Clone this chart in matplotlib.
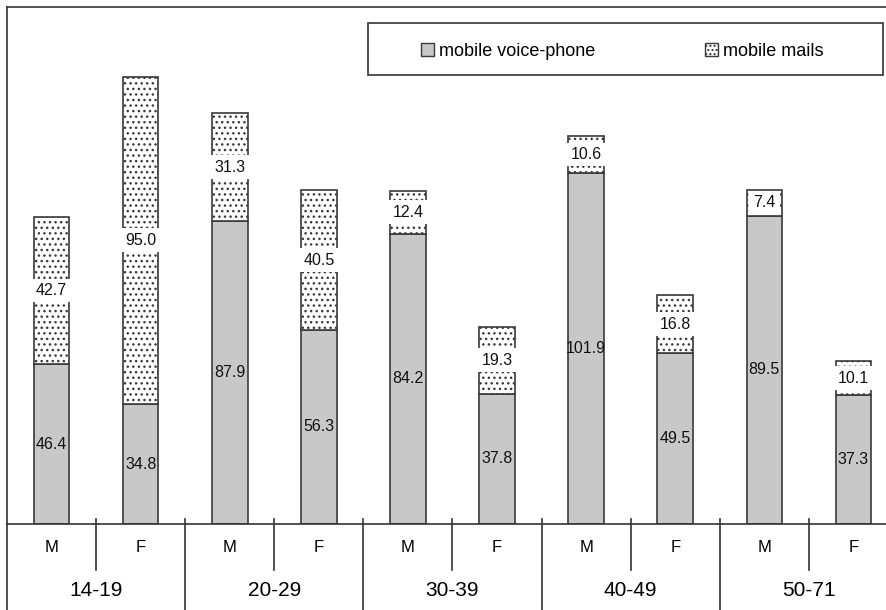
import matplotlib
matplotlib.use("Agg")
import matplotlib.pyplot as plt
from matplotlib.patches import Rectangle, Patch
import numpy as np

plt.rcParams['font.family'] = ['Liberation Sans', 'DejaVu Sans']
plt.rcParams['hatch.linewidth'] = 1.0

age_groups = ["14-19", "20-29", "30-39", "40-49", "50-71"]
sexes = ["M", "F"]
voice = [46.4, 34.8, 87.9, 56.3, 84.2, 37.8, 101.9, 49.5, 89.5, 37.3]
mails = [42.7, 95.0, 31.3, 40.5, 12.4, 19.3, 10.6, 16.8, 7.4, 10.1]
series_names = ["mobile voice-phone", "mobile mails"]

W, H = 887, 610
fig = plt.figure(figsize=(W / 100, H / 100), dpi=100)
ax_h = 517
ax = fig.add_axes([7 / W, 86 / H, 891 / W, ax_h / H])

x = np.arange(len(voice))
edge = "#3a3a3a"
b1 = ax.bar(x, voice, width=0.40, color="#c8c8c8", edgecolor=edge, linewidth=1.2)
b2 = ax.bar(x, mails, width=0.40, bottom=voice, color="white", edgecolor=edge,
            linewidth=1.2, hatch="...")

for xi, v, m in zip(x, voice, mails):
    ax.text(xi, v / 2, f"{v:.1f}", ha="center", va="center", fontsize=11.5, color="#111",
            zorder=5)
    ax.text(xi, v + m / 2, f"{m:.1f}", ha="center", va="center", fontsize=11.5, color="#111",
            zorder=5, bbox=dict(facecolor="white", edgecolor="none", pad=3.2))

ax.set_xlim(-0.5, len(voice) - 0.5)
ax.set_ylim(0, 150)
ax.set_xticks([])
ax.set_yticks([])
ax.spines["right"].set_visible(False)
for s in ["top", "left", "bottom"]:
    ax.spines[s].set_color("#333")
    ax.spines[s].set_linewidth(1.2)

trans = ax.get_xaxis_transform()
up = 5 / ax_h
# within-group separators
for g in range(len(age_groups)):
    xs = 2 * g + 0.5
    ax.plot([xs, xs], [up, -46 / ax_h], transform=trans, color="#333", lw=1.2, clip_on=False)
# group separators
for g in range(len(age_groups)):
    xs = 2 * g - 0.5
    top = up if g > 0 else 0
    ax.plot([xs, xs], [top, -86 / ax_h], transform=trans, color="#333", lw=1.2, clip_on=False)

for i in range(len(voice)):
    ax.text(i, -23 / ax_h, sexes[i % 2], transform=trans, ha="center", va="center", fontsize=12)
for g, name in enumerate(age_groups):
    ax.text(2 * g + 0.5, -66 / ax_h, name, transform=trans, ha="center", va="center", fontsize=15)

# legend box
fig.add_artist(Rectangle((368 / W, (H - 75) / H), (883 - 368) / W, 52 / H,
                         transform=fig.transFigure, facecolor="white", edgecolor="#333", lw=1.2))
handles = [Patch(facecolor="#c8c8c8", edgecolor=edge, lw=1.0),
           Patch(facecolor="white", edgecolor=edge, lw=1.0, hatch="....")]
fig.legend(handles, series_names, loc="center left", bbox_to_anchor=(421 / W, (H - 51) / H),
           ncol=2, frameon=False, fontsize=13, handlelength=0.7, handleheight=0.7,
           handletextpad=0.3, columnspacing=6.1, borderpad=0, borderaxespad=0)

fig.savefig("out.png", dpi=100)
